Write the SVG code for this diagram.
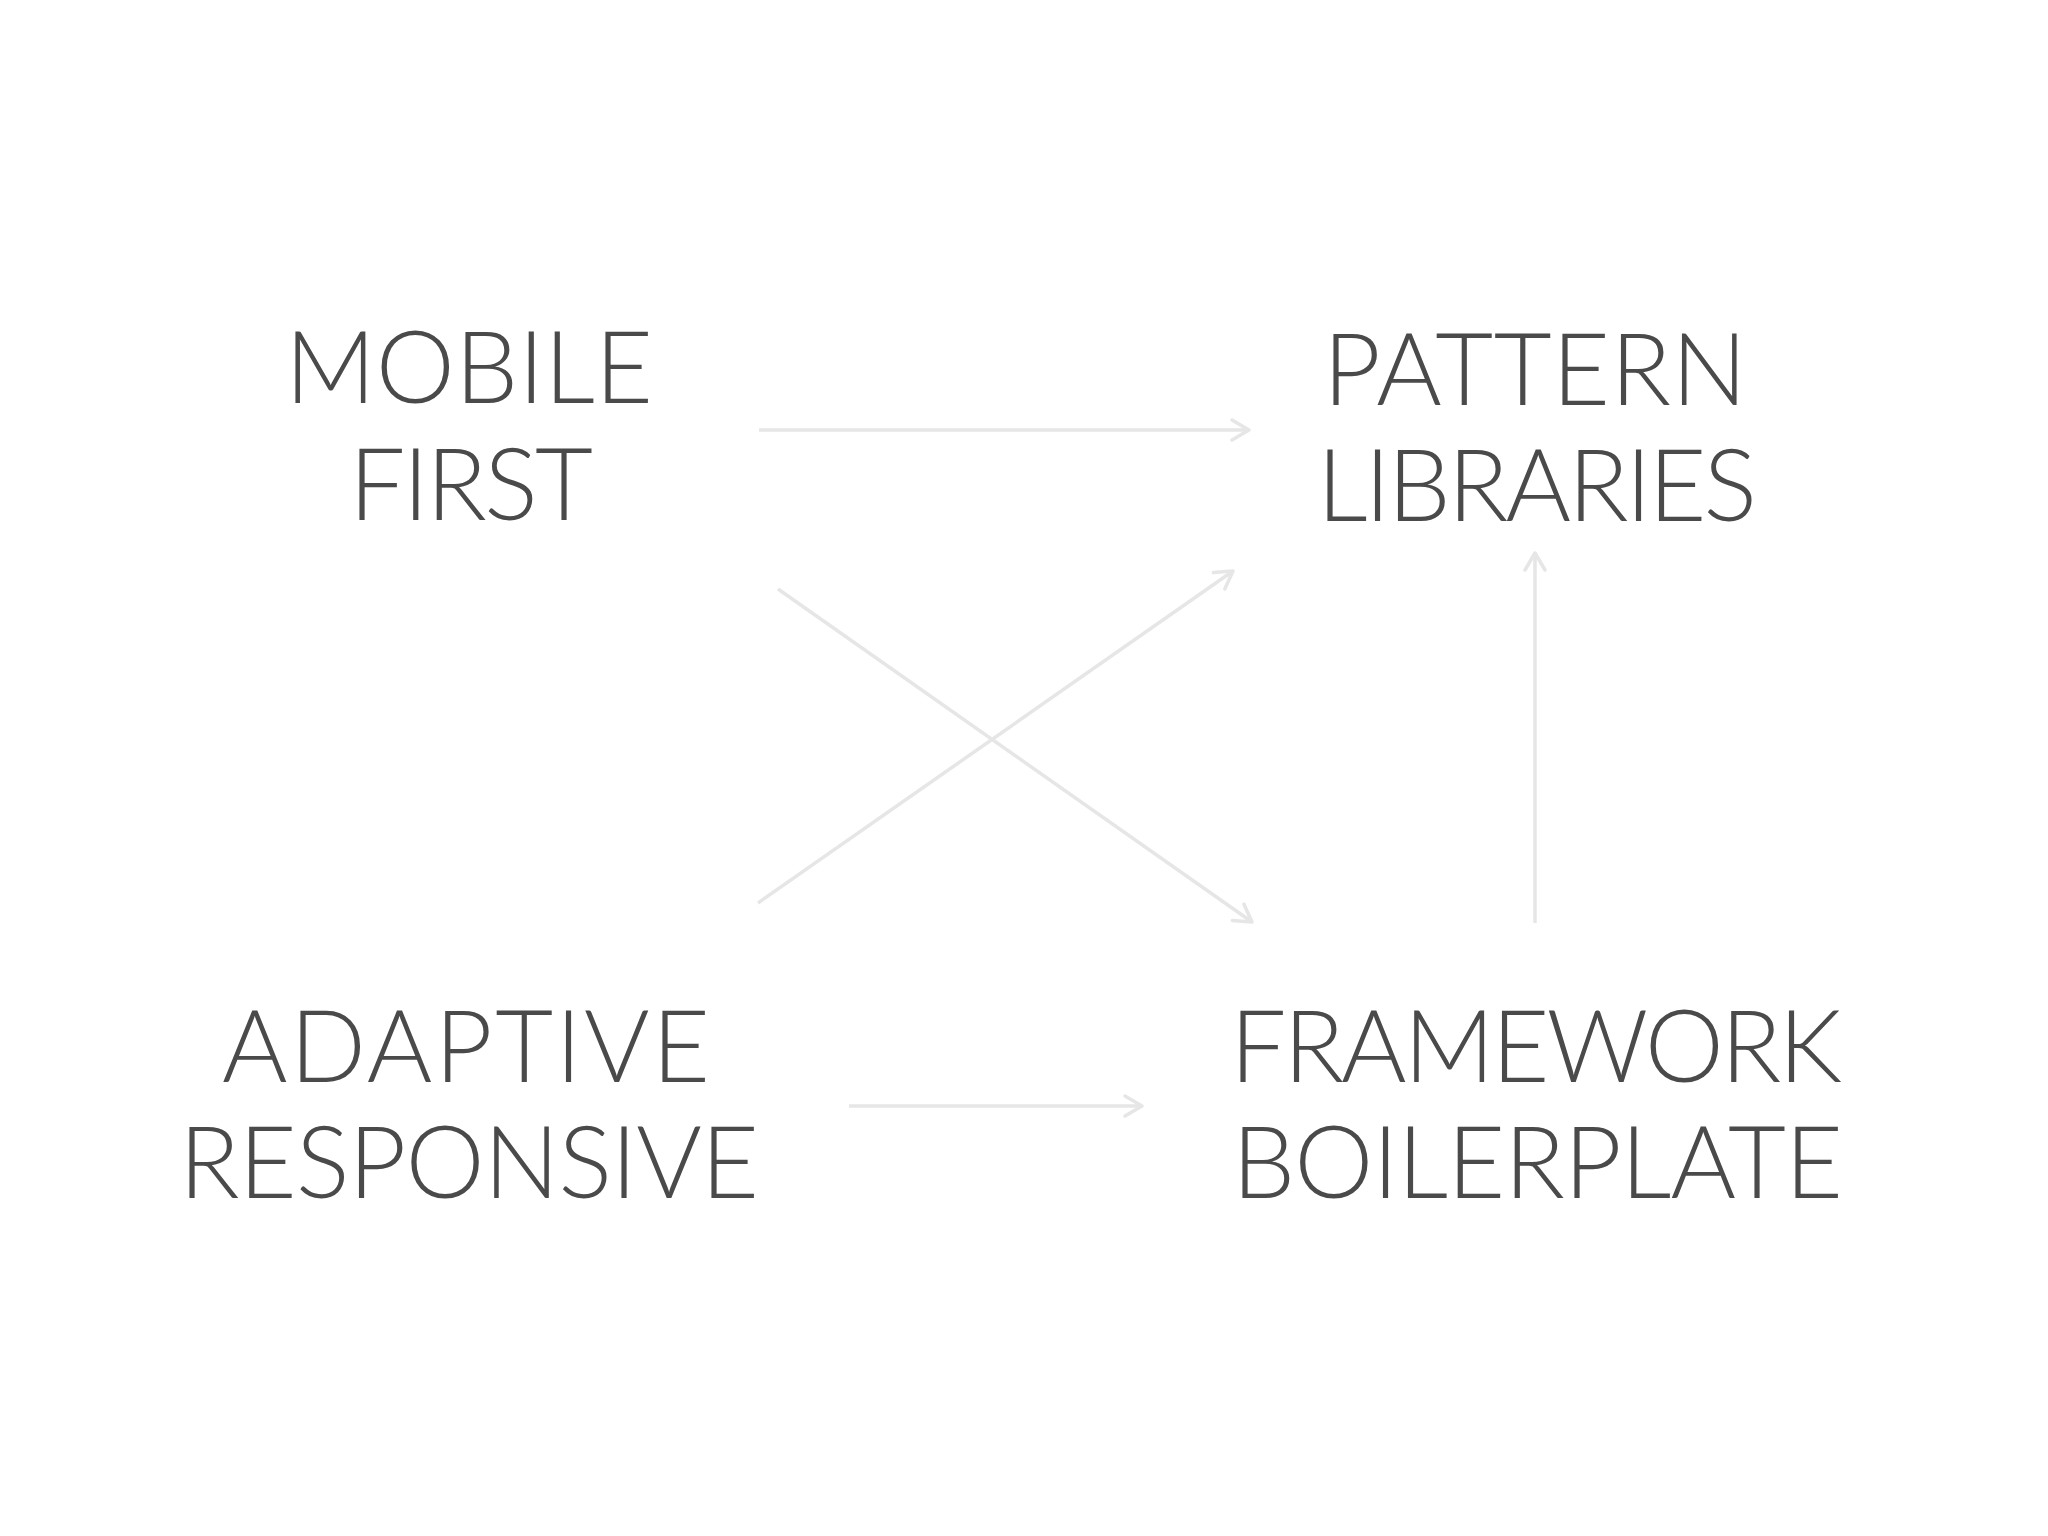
<svg xmlns="http://www.w3.org/2000/svg" width="2048" height="1536" viewBox="0 0 2048 1536">
  <defs>
    <marker id="chev" markerUnits="userSpaceOnUse" markerWidth="40" markerHeight="40" viewBox="-20 -20 40 40" refX="0" refY="0" orient="auto">
      <path d="M-17,-10 L0,0 L-17,10" fill="none" stroke="#e6e6e6" stroke-width="3.5" stroke-linecap="round" stroke-linejoin="round"/>
    </marker>
    <style>
      .lbl { font-family: "Lato", "Liberation Sans", sans-serif; font-weight: 300; font-size: 100px; fill: #4a4a4a; }
      .edge { fill: none; stroke: #e6e6e6; stroke-width: 3.5; marker-end: url(#chev); }
    </style>
  </defs>
  <rect width="2048" height="1536" fill="#ffffff"/>
  <g id="connectors">
    <line class="edge" x1="759" y1="430" x2="1249" y2="430"/>
    <line class="edge" x1="778" y1="589" x2="1252" y2="922"/>
    <line class="edge" x1="758" y1="903" x2="1233" y2="571"/>
    <line class="edge" x1="1535" y1="923" x2="1535" y2="553"/>
    <line class="edge" x1="849" y1="1106" x2="1142" y2="1106"/>
  </g>
  <g id="node-mobile-first">
    <text class="lbl" x="285" y="403" textLength="368" lengthAdjust="spacing">MOBILE</text>
    <text class="lbl" x="349" y="520" textLength="244" lengthAdjust="spacing">FIRST</text>
  </g>
  <g id="node-pattern-libraries">
    <text class="lbl" x="1323" y="405" textLength="424" lengthAdjust="spacing">PATTERN</text>
    <text class="lbl" x="1317" y="521" textLength="440" lengthAdjust="spacing">LIBRARIES</text>
  </g>
  <g id="node-adaptive-responsive">
    <text class="lbl" x="222" y="1082" textLength="488" lengthAdjust="spacing">ADAPTIVE</text>
    <text class="lbl" x="179" y="1198" textLength="580" lengthAdjust="spacing">RESPONSIVE</text>
  </g>
  <g id="node-framework-boilerplate">
    <text class="lbl" x="1230" y="1082" textLength="612" lengthAdjust="spacing">FRAMEWORK</text>
    <text class="lbl" x="1232" y="1198" textLength="611" lengthAdjust="spacing">BOILERPLATE</text>
  </g>
</svg>
